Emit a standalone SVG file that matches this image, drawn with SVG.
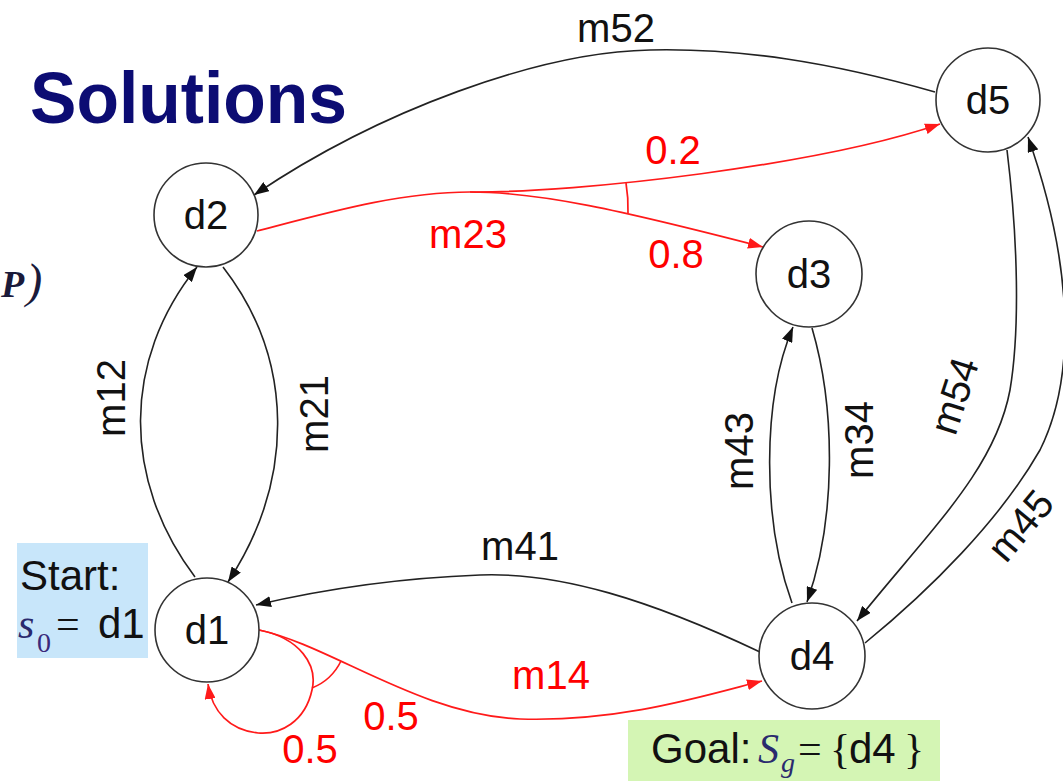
<svg xmlns="http://www.w3.org/2000/svg" width="1063" height="781" viewBox="0 0 1063 781">
<style>
.node circle{fill:#fff;stroke:#333;stroke-width:1.6}
.node text{font-family:"Liberation Sans",Arial,sans-serif;font-size:40px;fill:#111;text-anchor:middle}
.lbl{font-family:"Liberation Sans",Arial,sans-serif;font-size:40px;fill:#111;text-anchor:middle}
.rlbl{font-family:"Liberation Sans",Arial,sans-serif;font-size:40px;fill:#ff0000;text-anchor:middle}
.blk{fill:none;stroke:#222;stroke-width:1.6;marker-end:url(#ah)}
.red{fill:none;stroke:#ff1a1a;stroke-width:1.7}
.redA{marker-end:url(#ahr)}
.box{font-family:"Liberation Sans",Arial,sans-serif;font-size:42px;fill:#111}
.math{font-family:"Liberation Serif","Times New Roman",serif;font-style:italic;fill:#2a2a6e}
.sub{font-family:"Liberation Serif","Times New Roman",serif;fill:#3a2a7a}
.op{font-family:"Liberation Serif","Times New Roman",serif;font-size:42px;fill:#111}
</style>
<defs>
<marker id="ah" markerWidth="15" markerHeight="11" refX="15" refY="5.5" orient="auto" markerUnits="userSpaceOnUse"><path d="M0,0 L15,5.5 L0,11 z" fill="#111"/></marker>
<marker id="ahr" markerWidth="15" markerHeight="11" refX="15" refY="5.5" orient="auto" markerUnits="userSpaceOnUse"><path d="M0,0 L15,5.5 L0,11 z" fill="#ff1a1a"/></marker>
</defs>
<rect width="1063" height="781" fill="#fff"/>

<g id="title">
<text x="30" y="123" font-family="Liberation Sans,Arial,sans-serif" font-weight="bold" font-size="72" fill="#0c0c73" textLength="317" lengthAdjust="spacingAndGlyphs">Solutions</text>
<text x="1" y="297" font-family="Liberation Serif,Times New Roman,serif" font-style="italic" font-weight="bold" font-size="38" fill="#1a1a3a">P<tspan dx="2" font-weight="normal" font-size="48">)</tspan></text>
</g>

<g id="start-box">
<rect x="17" y="543" width="131" height="115" fill="#c8e6fa"/>
<text class="box" x="20" y="590">Start:</text>
<text class="math" x="18" y="638" font-size="42">s</text>
<text class="sub" x="37" y="652" font-size="28">0</text>
<text class="op" x="56" y="638">=</text>
<text class="box" x="98" y="638">d1</text>
</g>

<g id="goal-box">
<rect x="628" y="720" width="312" height="61" fill="#d4f5b4"/>
<text class="box" x="651" y="763" font-size="40">Goal:</text>
<text class="math" x="758" y="763" font-size="42" fill="#1f1f55">S</text>
<text class="math" x="781" y="772" font-size="28" fill="#1f1f55">g</text>
<text class="op" x="798" y="763">=</text>
<text class="op" x="830" y="763" fill="#222">{</text>
<text class="box" x="849" y="763">d4</text>
<text class="op" x="904" y="763" fill="#222">}</text>
</g>

<g id="connectors">
<!-- m52 -->
<path class="blk" d="M935,92 C 830,62 740,48 650,50 C 540,52 380,110 254,195"/>
<text class="lbl" x="616" y="42">m52</text>
<!-- m12 / m21 -->
<path class="blk" d="M195,577 C 122,480 122,360 197,267"/>
<text class="lbl" transform="translate(112,398) rotate(-90)" y="13">m12</text>
<path class="blk" d="M223,267 C 295,360 295,480 228,582"/>
<text class="lbl" transform="translate(315,414) rotate(-90)" y="13">m21</text>
<!-- m43 / m34 -->
<path class="blk" d="M792,603 C 762,520 762,400 793,327"/>
<text class="lbl" transform="translate(740,451) rotate(-90)" y="13">m43</text>
<path class="blk" d="M812,328 C 836,410 836,520 807,602"/>
<text class="lbl" transform="translate(860,440) rotate(-90)" y="13">m34</text>
<!-- m54 / m45 -->
<path class="blk" d="M1007,150 C 1018,240 1020,330 1010,390 C 995,470 930,530 857,621"/>
<text class="lbl" transform="translate(955,396) rotate(-72)" y="13">m54</text>
<path class="blk" d="M865,643 C 930,590 1000,520 1040,450 C 1075,380 1075,270 1028,137"/>
<text class="lbl" transform="translate(1021,526) rotate(-50)" y="13">m45</text>
<!-- m41 -->
<path class="blk" d="M760,652 C 650,600 560,572 480,575 C 400,578 320,590 256,605"/>
<text class="lbl" x="520" y="560">m41</text>
<!-- m23 (red, probabilistic) -->
<path class="red" d="M257,231 C 330,212 400,192 470,192"/>
<path class="red redA" d="M470,192 C 580,193 820,165 940,124"/>
<path class="red redA" d="M470,192 C 540,192 620,210 763,247"/>
<path class="red" d="M626,183 A 156 156 0 0 1 628,213"/>
<text class="rlbl" x="468" y="248">m23</text>
<text class="rlbl" x="673" y="164">0.2</text>
<text class="rlbl" x="676" y="268">0.8</text>
<!-- m14 (red, probabilistic) -->
<path class="red redA" d="M259,630 C 330,645 420,715 520,719 C 620,722 700,697 762,681"/>
<path class="red redA" d="M259,630 C 300,638 318,665 312,690 C 305,722 280,735 258,733 C 230,730 212,712 208,684"/>
<path class="red" d="M312,688 A 55 55 0 0 0 341,661"/>
<text class="rlbl" x="551" y="689">m14</text>
<text class="rlbl" x="391" y="730">0.5</text>
<text class="rlbl" x="310" y="763">0.5</text>
</g>

<g id="d1" class="node"><circle cx="207" cy="630" r="52"/><text x="207" y="644">d1</text></g>
<g id="d2" class="node"><circle cx="206" cy="215" r="52"/><text x="206" y="229">d2</text></g>
<g id="d3" class="node"><circle cx="809" cy="274" r="53"/><text x="809" y="288">d3</text></g>
<g id="d4" class="node"><circle cx="812" cy="656" r="53"/><text x="812" y="670">d4</text></g>
<g id="d5" class="node"><circle cx="988" cy="100" r="52"/><text x="988" y="114">d5</text></g>
</svg>
